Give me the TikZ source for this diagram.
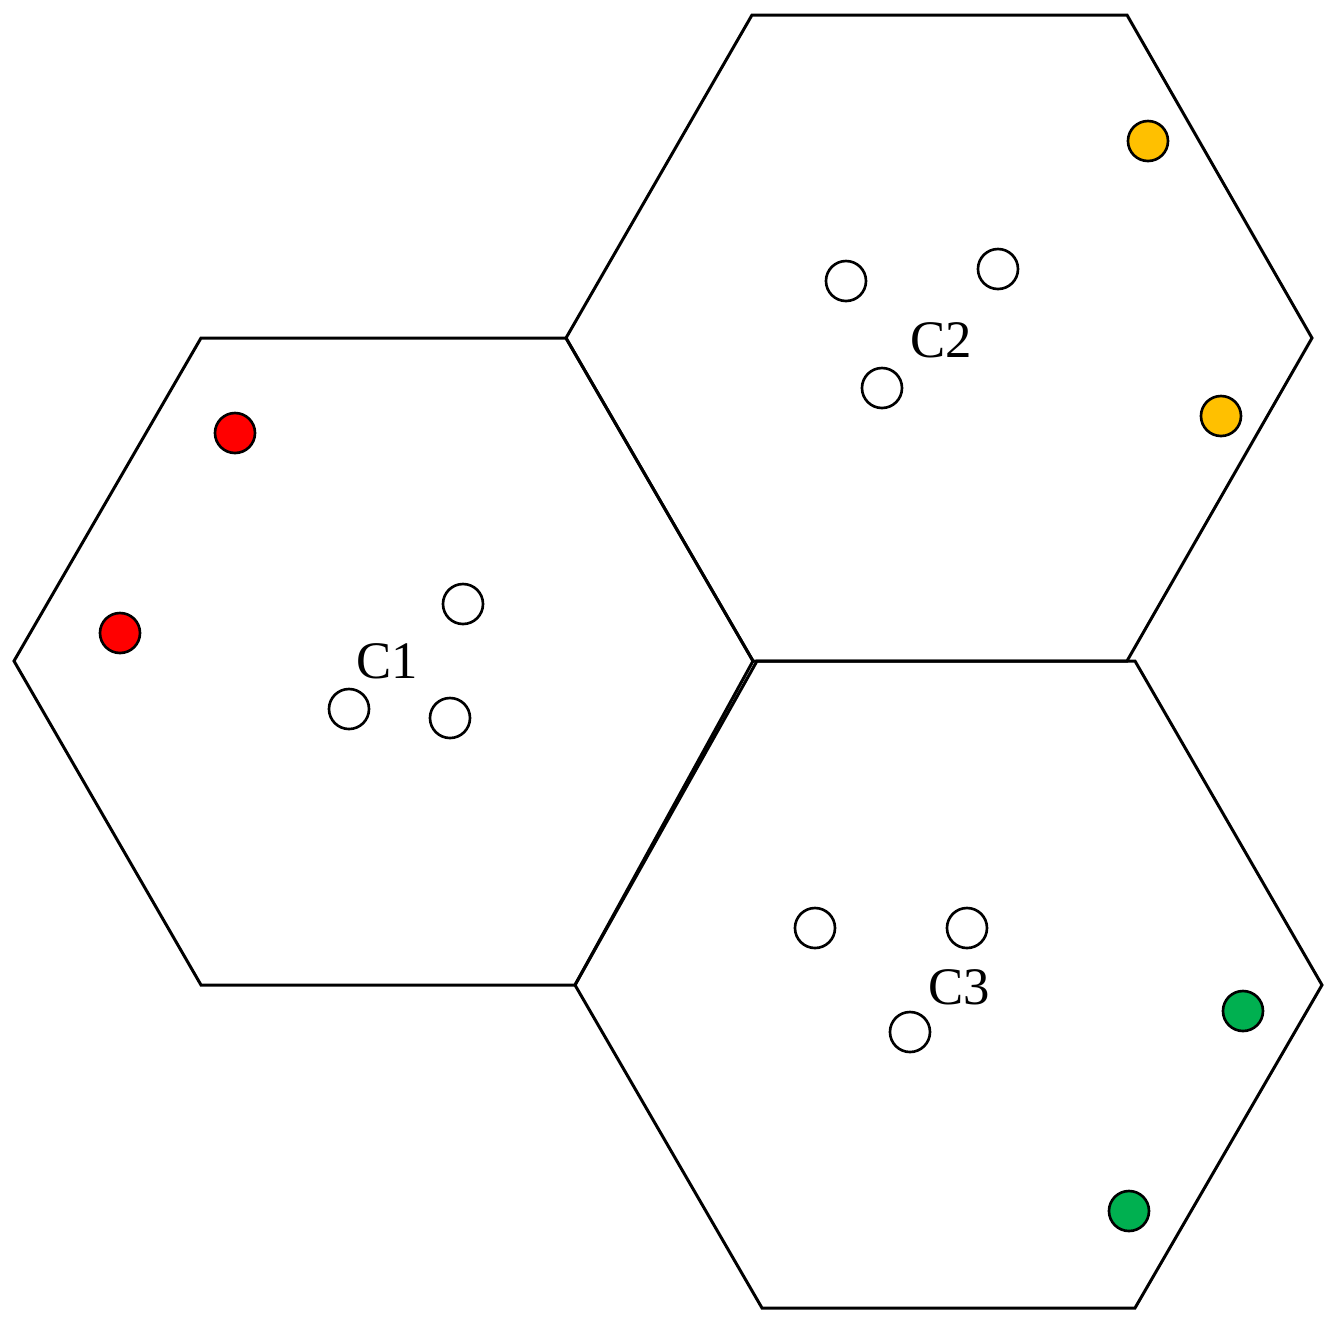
\documentclass[tikz,border=0pt]{standalone}
\usepackage{fontspec}
\setmainfont{Liberation Serif}
\usepackage{xcolor}
\definecolor{amber}{HTML}{FFC000}
\definecolor{leaf}{HTML}{00B050}
\begin{document}
\begin{tikzpicture}[x=0.01cm,y=-0.01cm,line width=0.85pt,
    ue/.style={circle,draw,line width=0.75pt,fill=white,minimum size=0.4cm,inner sep=0pt},
    lbl/.style={font=\fontsize{15}{18}\selectfont}]
            \useasboundingbox (0,0) rectangle (1332,1335);
            % cells
            \draw (201,338) -- (566,338) -- (753,661) -- (575,985) -- (201,985) -- (14,661) -- cycle;
            \draw (752,15) -- (1127,15) -- (1312,338) -- (1127,661) -- (753,661) -- (566,338) -- cycle;
            \draw (757,661) -- (1135,661) -- (1322,985) -- (1135,1308) -- (762,1308) -- (575,985) -- cycle;
            % cell 1
            \node[lbl] (cone) at (387,661) {C1};
            \node[ue] (a1) at (463,604) {};
            \node[ue] (a2) at (349,709) {};
            \node[ue] (a3) at (450,718) {};
            \node[ue,fill=red] (ra) at (235,433) {};
            \node[ue,fill=red] (rb) at (120,633) {};
            % cell 2
            \node[lbl] (ctwo) at (941,340) {C2};
            \node[ue] (b1) at (846,281) {};
            \node[ue] (b2) at (998,269) {};
            \node[ue] (b3) at (882,388) {};
            \node[ue,fill=amber] (ya) at (1148,141) {};
            \node[ue,fill=amber] (yb) at (1221,416) {};
            % cell 3
            \node[lbl] (cthree) at (959,987) {C3};
            \node[ue] (c1) at (815,928) {};
            \node[ue] (c2) at (967,928) {};
            \node[ue] (c3) at (910,1032) {};
            \node[ue,fill=leaf] (ga) at (1243,1011) {};
            \node[ue,fill=leaf] (gb) at (1129,1211) {};
        \end{tikzpicture}
\end{document}
